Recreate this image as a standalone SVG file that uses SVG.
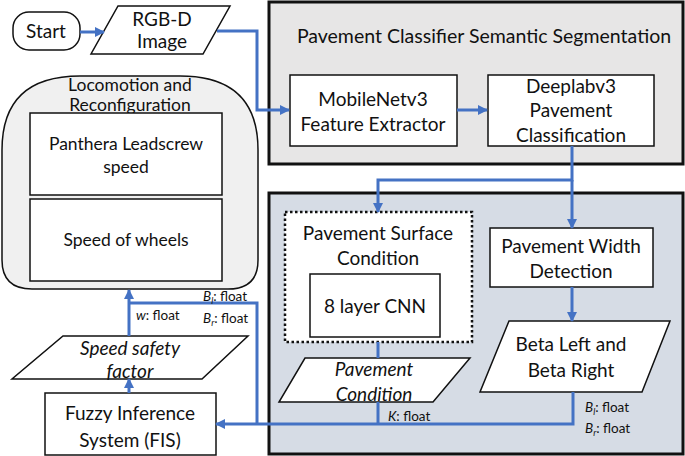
<svg xmlns="http://www.w3.org/2000/svg" width="685" height="456" viewBox="0 0 685 456">
<defs>
<marker id="arr" markerUnits="userSpaceOnUse" markerWidth="12" markerHeight="12" refX="9" refY="5" orient="auto">
<path d="M0,0 L10,5 L0,10 Z" fill="#4472c4"/>
</marker>
<style>
text{font-family:Lato,"Liberation Sans",Arial,sans-serif;fill:#111;text-anchor:middle;font-size:19px}
.m{font-size:17.5px}
.t{font-size:19.5px}
.s{font-size:13.5px;text-anchor:start}
.i{font-style:italic}
.box{fill:#fff;stroke:#111;stroke-width:1.5}
.con{fill:none;stroke:#4472c4;stroke-width:3}
</style>
</defs>
<rect width="685" height="456" fill="#fff"/>

<g id="classifier">
<rect x="269" y="2" width="414" height="162" fill="#e7e6e6" stroke="#111" stroke-width="3"/>
<text class="t" x="484" y="43">Pavement Classifier Semantic Segmentation</text>
</g>
<g id="analysis">
<rect x="269" y="193" width="414" height="261" fill="#d6dce5" stroke="#111" stroke-width="3"/>
</g>

<g id="start">
<rect x="13" y="12" width="67" height="38" rx="16" class="box"/>
<text x="46" y="38">Start</text>
</g>
<g id="rgbd">
<path d="M118,6 L230,6 L203,54 L91,54 Z" class="box"/>
<text x="162" y="26">RGB-D</text>
<text x="162" y="48">Image</text>
</g>
<g id="locomotion">
<path d="M80,76 L180,76 C232,76 258,100 258,150 L258,260 C258,280 248,289 228,289 L32,289 C12,289 2,280 2,260 L2,150 C2,100 28,76 80,76 Z" fill="#f0f0f0" stroke="#111" stroke-width="1.5"/>
<text class="m" x="130" y="91">Locomotion and</text>
<text class="m" x="130" y="111">Reconfiguration</text>
</g>
<g id="leadscrew">
<rect x="30" y="113" width="192" height="82" class="box"/>
<text class="m" x="126" y="150">Panthera Leadscrew</text>
<text class="m" x="126" y="173">speed</text>
</g>
<g id="wheels">
<rect x="30" y="199" width="192" height="82" class="box"/>
<text class="m" x="126" y="246">Speed of wheels</text>
</g>
<g id="mobilenet">
<rect x="290" y="75" width="167" height="71" class="box"/>
<text x="373" y="106">MobileNetv3</text>
<text x="373" y="131">Feature Extractor</text>
</g>
<g id="deeplab">
<rect x="488" y="75" width="166" height="71" class="box"/>
<text x="571" y="93">Deeplabv3</text>
<text x="571" y="117">Pavement</text>
<text x="571" y="142">Classification</text>
</g>
<g id="surface">
<rect x="285" y="212" width="187" height="130" fill="#fff" stroke="#111" stroke-width="2.5" stroke-dasharray="2.5,2.5"/>
<text x="378" y="240">Pavement Surface</text>
<text x="378" y="265">Condition</text>
</g>
<g id="cnn">
<rect x="310" y="274" width="130" height="63" class="box"/>
<text x="375" y="313">8 layer CNN</text>
</g>
<g id="width">
<rect x="490" y="228" width="163" height="59" class="box"/>
<text x="571" y="253">Pavement Width</text>
<text x="571" y="278">Detection</text>
</g>
<g id="beta">
<path d="M509,321 L670,321 L642,392 L480,392 Z" class="box"/>
<text x="571" y="351">Beta Left and</text>
<text x="571" y="377">Beta Right</text>
</g>
<g id="condition">
<path d="M305,358 L470,358 L433,402 L279,402 Z" class="box"/>
<text class="i" x="374" y="376">Pavement</text>
<text class="i" x="374" y="401">Condition</text>
</g>
<g id="safety">
<path d="M63,336 L248,336 L202,379 L12,379 Z" class="box"/>
<text class="i" x="130" y="355">Speed safety</text>
<text class="i" x="130" y="378">factor</text>
</g>
<g id="fis">
<rect x="45" y="393" width="171" height="62" class="box"/>
<text x="130" y="420">Fuzzy Inference</text>
<text x="130" y="447">System (FIS)</text>
</g>

<g id="connectors">
<path class="con" d="M80,32 H104" marker-end="url(#arr)"/>
<path class="con" d="M217,31 H257 V110 H289" marker-end="url(#arr)"/>
<path class="con" d="M457,110 H487" marker-end="url(#arr)"/>
<path class="con" d="M572,146 V180 H378 V212" marker-end="url(#arr)"/>
<path class="con" d="M572,180 V228" marker-end="url(#arr)"/>
<path class="con" d="M572,287 V321" marker-end="url(#arr)"/>
<path class="con" d="M378,342 V358"/>
<path class="con" d="M378,402 V424"/>
<path class="con" d="M573,392 V424 H216" marker-end="url(#arr)"/>
<path class="con" d="M257,424 V303 H129"/>
<path class="con" d="M129,336 V290" marker-end="url(#arr)"/>
<path class="con" d="M129,393 V379" marker-end="url(#arr)"/>
</g>

<g id="labels">
<text class="s" x="388" y="421"><tspan class="i">K</tspan>: float</text>
<text class="s" x="585" y="412"><tspan class="i">B</tspan><tspan class="i" font-size="9" dy="3">l</tspan><tspan dy="-3">: float</tspan></text>
<text class="s" x="585" y="433"><tspan class="i">B</tspan><tspan class="i" font-size="9" dy="3">r</tspan><tspan dy="-3">: float</tspan></text>
<text class="s" x="203" y="301"><tspan class="i">B</tspan><tspan class="i" font-size="9" dy="3">l</tspan><tspan dy="-3">: float</tspan></text>
<text class="s" x="203" y="323"><tspan class="i">B</tspan><tspan class="i" font-size="9" dy="3">r</tspan><tspan dy="-3">: float</tspan></text>
<text class="s" x="136" y="320"><tspan class="i">w</tspan>: float</text>
</g>
</svg>
